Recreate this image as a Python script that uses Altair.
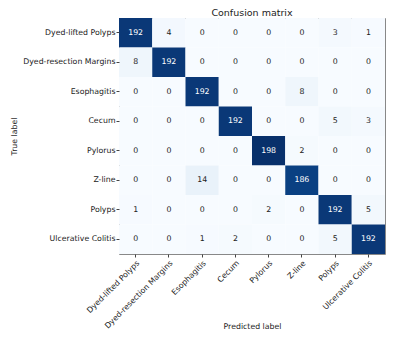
import altair as alt
import pandas as pd

labels = ["Dyed-lifted Polyps", "Dyed-resection Margins", "Esophagitis", "Cecum",
          "Pylorus", "Z-line", "Polyps", "Ulcerative Colitis"]
matrix = [
    [192, 4, 0, 0, 0, 0, 3, 1],
    [8, 192, 0, 0, 0, 0, 0, 0],
    [0, 0, 192, 0, 0, 8, 0, 0],
    [0, 0, 0, 192, 0, 0, 5, 3],
    [0, 0, 0, 0, 198, 2, 0, 0],
    [0, 0, 14, 0, 0, 186, 0, 0],
    [1, 0, 0, 0, 2, 0, 192, 5],
    [0, 0, 1, 2, 0, 0, 5, 192],
]
blues = ["#f7fbff", "#deebf7", "#c6dbef", "#9ecae1", "#6baed6",
         "#4292c6", "#2171b5", "#08519c", "#08306b"]

rows = []
for i, t in enumerate(labels):
    for j, p in enumerate(labels):
        rows.append({"true": t, "pred": p, "count": matrix[i][j]})
df = pd.DataFrame(rows)
vmax = max(max(r) for r in matrix)
thresh = vmax / 2.0
dom = [vmax * k / 8 for k in range(9)]

font = "DejaVu Sans"
x = alt.X("pred:N", sort=labels, title="Predicted label",
          axis=alt.Axis(labelAngle=-45, labelAlign="right", labelBaseline="top",
                        labelFontSize=7.8, titleFontSize=7.8, titleFontWeight="normal",
                        labelPadding=2, tickSize=3, titleY=68, titleBaseline="top",
                        domain=False,
                        labelColor="#222", titleColor="#222", tickColor="#444"))
y = alt.Y("true:N", sort=labels, title="True label",
          axis=alt.Axis(labelFontSize=7.8, titleFontSize=7.8, titleFontWeight="normal",
                        labelPadding=1, tickSize=3, titlePadding=4, domain=False,
                        labelColor="#222", titleColor="#222", tickColor="#444"))

base = alt.Chart(df).encode(x=x, y=y)
rect = base.mark_rect().encode(
    color=alt.Color("count:Q", scale=alt.Scale(domain=dom, range=blues), legend=None)
)
text = base.mark_text(fontSize=7.8, font=font).encode(
    text="count:Q",
    color=alt.condition(alt.datum.count > thresh, alt.value("white"), alt.value("#222")),
)

chart = (rect + text).properties(
    width=266, height=236,
    title=alt.TitleParams("Confusion matrix", fontSize=9.5, fontWeight="normal",
                          font=font, color="#222", offset=1),
    autosize=alt.AutoSizeParams(type="none"),
    padding={"left": 111, "top": 10, "right": 5, "bottom": 82},
).configure(font=font).configure_view(stroke="#888", strokeWidth=1).configure_scale(
    bandPaddingInner=0, bandPaddingOuter=0
)

chart.save("out.html", embed_options={"renderer": "svg", "actions": False})
